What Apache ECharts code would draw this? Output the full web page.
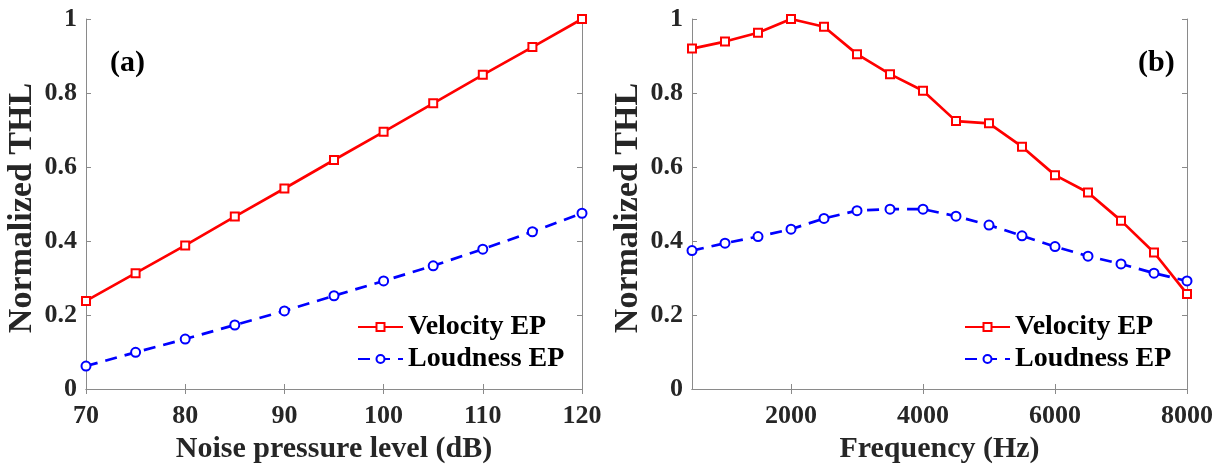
<!DOCTYPE html>
<html>
<head>
<meta charset="utf-8">
<script src="https://cdn.jsdelivr.net/npm/echarts@6/dist/echarts.min.js"></script>
<style>
html,body{margin:0;padding:0;background:#fff;}
#chart{width:1222px;height:466px;}
</style>
</head>
<body>
<div id="chart"></div>
<script>
// Panel (a): Noise pressure level (dB)
const levelsA = [70, 75, 80, 85, 90, 95, 100, 105, 110, 115, 120];
const velocityA = [0.238, 0.313, 0.388, 0.466, 0.542, 0.619, 0.695, 0.772, 0.849, 0.924, 1.0];
const loudnessA = [0.062, 0.099, 0.135, 0.173, 0.211, 0.252, 0.292, 0.333, 0.378, 0.425, 0.475];

// Panel (b): Frequency (Hz)
const freqB = [500, 1000, 1500, 2000, 2500, 3000, 3500, 4000, 4500, 5000, 5500, 6000, 6500, 7000, 7500, 8000];
const velocityB = [0.920, 0.939, 0.963, 1.0, 0.979, 0.905, 0.851, 0.806, 0.724, 0.718, 0.655, 0.578, 0.531, 0.455, 0.369, 0.257];
const loudnessB = [0.374, 0.394, 0.412, 0.432, 0.461, 0.482, 0.486, 0.486, 0.467, 0.443, 0.414, 0.385, 0.359, 0.338, 0.313, 0.292];

const freqTicks = [2000, 4000, 6000, 8000];
const seriesNames = ['Velocity EP', 'Loudness EP'];

const FONT = '"Liberation Serif", "Times New Roman", serif';
const TXT = '#262626';
const AX = '#8a8a8a';
const RED = '#ff0000';
const BLUE = '#0000ff';

function pairs(xs, ys) { return xs.map((x, i) => [x, ys[i]]); }

const labelStyle = { color: TXT, fontFamily: FONT, fontWeight: 'bold', fontSize: 26, formatter: v => String(v) };
const axisLine = { show: true, lineStyle: { color: AX, width: 1 } };
const tickIn = { show: true, inside: true, length: 5, lineStyle: { color: AX } };

function mainX(gi, name, extra) {
  return Object.assign({
    type: 'value', gridIndex: gi, position: 'bottom',
    name: name, nameLocation: 'middle', nameGap: 38,
    nameTextStyle: { color: TXT, fontFamily: FONT, fontWeight: 'bold', fontSize: 30 },
    axisLine: axisLine, axisTick: tickIn,
    axisLabel: Object.assign({ margin: 14 }, labelStyle),
    splitLine: { show: false }
  }, extra);
}
function topX(gi, extra) {
  return Object.assign({
    type: 'value', gridIndex: gi, position: 'top',
    axisLine: axisLine, axisTick: tickIn, axisLabel: { show: false },
    splitLine: { show: false }
  }, extra);
}
function mainY(gi) {
  return {
    type: 'value', gridIndex: gi, position: 'left', min: 0, max: 1, interval: 0.2,
    name: 'Normalized THL', nameLocation: 'middle', nameGap: 47,
    nameTextStyle: { color: TXT, fontFamily: FONT, fontWeight: 'bold', fontSize: 34, padding: [0, 8, 0, 0] },
    axisLine: axisLine, axisTick: tickIn,
    axisLabel: Object.assign({ margin: 9 }, labelStyle),
    splitLine: { show: false }
  };
}
function rightY(gi) {
  return {
    type: 'value', gridIndex: gi, position: 'right', min: 0, max: 1, interval: 0.2,
    axisLine: axisLine, axisTick: tickIn, axisLabel: { show: false },
    splitLine: { show: false }
  };
}

function velSeries(xi, yi, data) {
  return {
    name: seriesNames[0], type: 'line', xAxisIndex: xi, yAxisIndex: yi,
    data: data, symbol: 'emptyRect', symbolSize: 8,
    lineStyle: { color: RED, width: 2.7 },
    itemStyle: { color: RED, borderColor: RED, borderWidth: 2 },
    animation: false, z: 3
  };
}
function loudSeries(xi, yi, data) {
  return {
    name: seriesNames[1], type: 'line', xAxisIndex: xi, yAxisIndex: yi,
    data: data, symbol: 'emptyCircle', symbolSize: 9,
    lineStyle: { color: BLUE, width: 2.7, type: [12, 8] },
    itemStyle: { color: BLUE, borderColor: BLUE, borderWidth: 2 },
    animation: false, z: 2
  };
}

function legendAt(left) {
  return {
    left: left, top: 308, orient: 'vertical',
    data: seriesNames, itemWidth: 45, itemHeight: 10, itemGap: 4,
    textStyle: { color: '#000', fontFamily: FONT, fontWeight: 'bold', fontSize: 28 }
  };
}

const titleStyle = { color: '#000', fontFamily: FONT, fontWeight: 'bold', fontSize: 30 };

const option = {
  backgroundColor: '#fff',
  animation: false,
  title: [
    { text: '(a)', left: 105, top: 43, textStyle: titleStyle },
    { text: '(b)', left: 1133, top: 43, textStyle: titleStyle }
  ],
  grid: [
    { left: 86, top: 19, width: 496, height: 370, outerBoundsMode: 'none', containLabel: false },
    { left: 692, top: 19, width: 495, height: 370, outerBoundsMode: 'none', containLabel: false }
  ],
  xAxis: [
    mainX(0, 'Noise pressure level (dB)', { min: 70, max: 120, interval: 10 }),
    mainX(1, 'Frequency (Hz)', {
      min: 500, max: 8000,
      axisLabel: Object.assign({ margin: 14, customValues: freqTicks }, labelStyle),
      axisTick: Object.assign({}, tickIn, { customValues: freqTicks })
    }),
    topX(0, { min: 70, max: 120, interval: 10 }),
    topX(1, { min: 500, max: 8000, axisTick: Object.assign({}, tickIn, { customValues: freqTicks }) })
  ],
  yAxis: [mainY(0), mainY(1), rightY(0), rightY(1)],
  legend: [legendAt(352), legendAt(959)],
  series: [
    velSeries(0, 0, pairs(levelsA, velocityA)),
    loudSeries(0, 0, pairs(levelsA, loudnessA)),
    velSeries(1, 1, pairs(freqB, velocityB)),
    loudSeries(1, 1, pairs(freqB, loudnessB))
  ]
};

const chart = echarts.init(document.getElementById('chart'), null, { renderer: 'canvas' });
chart.setOption(option);
</script>
</body>
</html>
